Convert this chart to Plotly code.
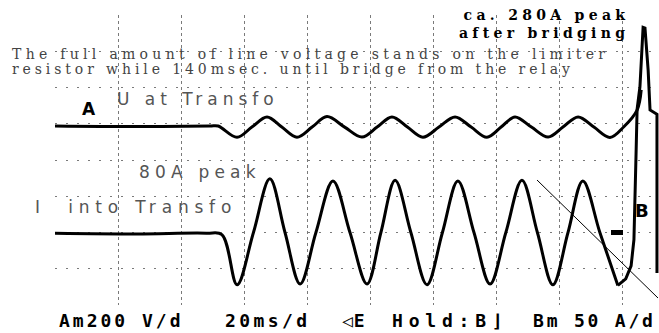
import plotly.graph_objects as go

# ---- data ----
# channel B: current into the transformer (A), time in ms (20 ms/div)
b_time = [0, 26, 48, 52.9, 57.7, 62.9, 68.1, 72.9, 77.7, 82.7, 88.1, 93.5, 98.9, 103.3,
          107.8, 112.8, 117.9, 122.8, 127.7, 132.8, 137.9, 142.9, 148.0, 152.9, 157.8,
          162.6, 167.3, 172.7, 178.4]
b_curr = [-1, -2, -1, -3, -72, 0, 74, 0, -71, 0, 71, 0, -71, 0,
          72, 0, -72, 0, 71, 0, -71, 0, 72, 0, -72,
          0, 71, 0, -73]
# channel B after relay bridging (inrush spike)
spike_time = [178.4, 180.9, 182.6, 183.5, 184.2, 184.5, 185.4, 186.0, 186.4, 187.0,
              188.0, 188.6, 190.8, 190.8]
spike_curr = [-73, -64, -46, -10, 114, 170, 201, 265, 283, 282,
              224, 169, 163, -56]
# channel A: voltage at transformer (V)
a_time = [0, 25, 49.1, 51.7, 57.7, 62.4, 67.2, 71.9, 76.7, 81.5, 86.2, 91.8, 97.3, 102.1,
          106.8, 111.7, 116.6, 121.7, 126.8, 131.9, 136.9, 141.4, 145.8, 151.0, 156.3,
          161.0, 165.8, 170.8, 175.9, 180.3, 184.5, 185.8]
a_volt = [0, -3, 0, 0, -62, -6, 50, -6, -62, -6, 52, -6, -61, -6,
          50, -6, -62, -6, 50, -6, -62, -6, 50, -6, -61,
          -6, 50, -6, -63, -4, 88, 199]

# scope settings
A_V_PER_DIV = 200
B_A_PER_DIV = 50
T_MS_PER_DIV = 20

W, H = 659, 333
L, R, T, B = 55, 0, 15, 28
PW, PH = W - L - R, H - T - B


def px(x):
    return (x - L) / PW


def py(y):
    return (H - B - y) / PH


fig = go.Figure()
fig.add_trace(go.Scatter(x=a_time, y=a_volt, yaxis="y2", mode="lines",
                         line=dict(color="black", width=3, shape="spline", smoothing=1),
                         hoverinfo="skip", showlegend=False))
fig.add_trace(go.Scatter(x=b_time, y=b_curr, mode="lines",
                         line=dict(color="black", width=3, shape="spline", smoothing=1),
                         hoverinfo="skip", showlegend=False))
fig.add_trace(go.Scatter(x=spike_time, y=spike_curr, mode="lines",
                         line=dict(color="black", width=3),
                         hoverinfo="skip", showlegend=False))

x_max = PW / 63.1 * T_MS_PER_DIV
b_lo = -2 * B_A_PER_DIV
b_hi = 6 * B_A_PER_DIV
a_zero_div_from_top = (126 - T) / 36.25
a_hi = a_zero_div_from_top * A_V_PER_DIV
a_lo = a_hi - 8 * A_V_PER_DIV


def sp(txt, ls):
    return f'<span style="letter-spacing:{ls}px">{txt}</span>'


ann = []


def add(text, x, y, size, family, color="black", xanchor="left", ls=0, bold=False, align="left"):
    t = "<br>".join(sp(p, ls) for p in text.split("\n")) if ls else text.replace("\n", "<br>")
    if bold:
        t = "<b>" + t + "</b>"
    ann.append(dict(text=t, x=px(x), y=py(y), xref="paper", yref="paper",
                    xanchor=xanchor, yanchor="middle", showarrow=False, align=align,
                    font=dict(size=size, family=family, color=color)))


serif = "DejaVu Serif"
sans = "DejaVu Sans"
mono = "DejaVu Sans Mono"

add("ca. 280A peak\nafter bridging", 631, 23.5, 14, serif, xanchor="right", ls=4.3,
    bold=True, align="right")
add("The full amount of line voltage stands on the limiter", 10, 54, 14, serif, "#444", ls=4.3)
add("resistor while 140msec. until bridge from the relay", 10, 69, 14, serif, "#444", ls=3.9)
add("U at Transfo", 115, 99, 17, sans, "#555", ls=5)
add("A", 80, 109, 17, sans, bold=True)
add("80A peak", 137, 172, 17, sans, "#555", ls=5.2)
add("I  into Transfo", 33, 207, 17, sans, "#555", ls=5.8)
add("B", 633, 210, 18, sans, bold=True)
add("Am200 V/d", 57, 320, 18, mono, ls=3, bold=True)
add("20ms/d", 223, 320, 18, mono, ls=3.4, bold=True)
add("◁E", 340, 320, 18, mono, ls=1, bold=True)
add("Hold:B⌋", 390, 320, 18, mono, ls=5.8, bold=True)
add("Bm 50 A/d", 531, 320, 18, mono, ls=2.8, bold=True)

shapes = [
    # zero marker of channel B
    dict(type="rect", xref="paper", yref="paper", x0=px(611), x1=px(623), y0=py(235), y1=py(230),
         fillcolor="black", line=dict(width=0)),
    # hand-drawn pointer line
    dict(type="line", xref="paper", yref="paper", x0=px(537), y0=py(180), x1=px(658), y1=py(298),
         line=dict(color="black", width=1)),
]

fig.update_layout(
    width=W, height=H, margin=dict(l=L, r=R, t=T, b=B),
    paper_bgcolor="white", plot_bgcolor="white",
    annotations=ann, shapes=shapes,
    xaxis=dict(range=[0, x_max], dtick=T_MS_PER_DIV, tick0=0, showticklabels=False,
               showgrid=True, gridcolor="#7a7a7a", griddash="dot", gridwidth=1,
               zeroline=False, showline=False, ticks=""),
    yaxis=dict(range=[b_lo, b_hi], dtick=B_A_PER_DIV, tick0=0, showticklabels=False,
               showgrid=True, gridcolor="#7a7a7a", griddash="2px,9px", gridwidth=1,
               zeroline=False, showline=False, ticks=""),
    yaxis2=dict(range=[a_lo, a_hi], overlaying="y", showgrid=False, zeroline=False,
                showticklabels=False, ticks=""),
)

fig.write_html("out.html", config={"displayModeBar": False},
               post_script="document.body.style.margin='0';")
